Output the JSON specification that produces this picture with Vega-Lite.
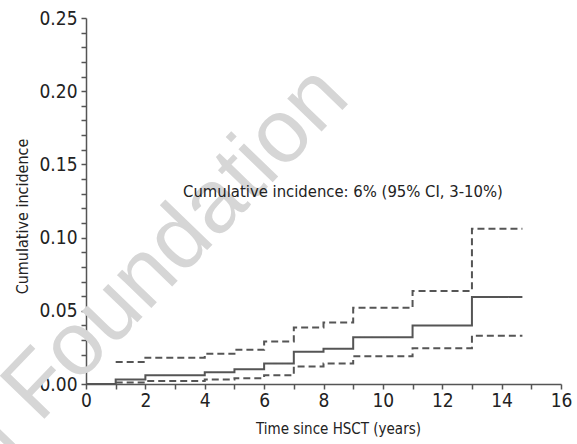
{
  "$schema": "https://vega.github.io/schema/vega-lite/v6.json",
  "width": 475,
  "height": 366,
  "autosize": {"type": "none"},
  "padding": {"left": 86, "top": 18, "right": 16, "bottom": 60},
  "background": "white",
  "config": {
    "view": {"stroke": null},
    "font": "DejaVu Sans Condensed, Liberation Sans, sans-serif",
    "axis": {
      "grid": false,
      "domainColor": "#555",
      "domainWidth": 1.5,
      "tickColor": "#555",
      "tickWidth": 1.5,
      "tickSize": 5,
      "labelFont": "DejaVu Sans Condensed, Liberation Sans, sans-serif",
      "labelFontSize": 19,
      "labelColor": "#222",
      "titleFont": "DejaVu Sans Condensed, Liberation Sans, sans-serif",
      "titleFontWeight": "normal",
      "titleColor": "#222"
    }
  },
  "datasets": {
    "curves": [
      {"series": "estimate", "time": 0, "ci": 0},
      {"series": "estimate", "time": 1, "ci": 0.003},
      {"series": "estimate", "time": 2, "ci": 0.006},
      {"series": "estimate", "time": 4, "ci": 0.008},
      {"series": "estimate", "time": 5, "ci": 0.010},
      {"series": "estimate", "time": 6, "ci": 0.014},
      {"series": "estimate", "time": 7, "ci": 0.022},
      {"series": "estimate", "time": 8, "ci": 0.024},
      {"series": "estimate", "time": 9, "ci": 0.032},
      {"series": "estimate", "time": 11, "ci": 0.040},
      {"series": "estimate", "time": 13, "ci": 0.0595},
      {"series": "estimate", "time": 14.7, "ci": 0.0595},
      {"series": "upper", "time": 1, "ci": 0.015},
      {"series": "upper", "time": 2, "ci": 0.018},
      {"series": "upper", "time": 4, "ci": 0.0207},
      {"series": "upper", "time": 5, "ci": 0.0234},
      {"series": "upper", "time": 6, "ci": 0.029},
      {"series": "upper", "time": 7, "ci": 0.0386},
      {"series": "upper", "time": 8, "ci": 0.042},
      {"series": "upper", "time": 9, "ci": 0.052},
      {"series": "upper", "time": 11, "ci": 0.0636},
      {"series": "upper", "time": 13, "ci": 0.106},
      {"series": "upper", "time": 14.7, "ci": 0.106},
      {"series": "lower", "time": 1, "ci": 0.001},
      {"series": "lower", "time": 2, "ci": 0.002},
      {"series": "lower", "time": 4, "ci": 0.003},
      {"series": "lower", "time": 5, "ci": 0.004},
      {"series": "lower", "time": 6, "ci": 0.006},
      {"series": "lower", "time": 7, "ci": 0.012},
      {"series": "lower", "time": 8, "ci": 0.014},
      {"series": "lower", "time": 9, "ci": 0.019},
      {"series": "lower", "time": 11, "ci": 0.0245},
      {"series": "lower", "time": 13, "ci": 0.033},
      {"series": "lower", "time": 14.7, "ci": 0.033}
    ],
    "watermark": [
      {"label": "Ferrata Storti Foundation", "time": 8.96, "ci": 0.194}
    ],
    "notes": [
      {"label": "Cumulative incidence: 6% (95% CI, 3-10%)", "time": 3.27, "ci": 0.131}
    ]
  },
  "layer": [
    {
      "data": {"name": "watermark"},
      "mark": {"type": "text", "align": "right", "baseline": "alphabetic", "angle": -46, "font": "Liberation Sans", "fontSize": 90, "color": "#d6d6d6"},
      "encoding": {
        "x": {"field": "time", "type": "quantitative", "scale": {"domain": [0, 16], "nice": false}},
        "y": {"field": "ci", "type": "quantitative", "scale": {"domain": [0, 0.25], "nice": false}},
        "text": {"field": "label"}
      }
    },
    {
      "data": {"name": "curves"},
      "mark": {"type": "line", "interpolate": "step-after", "color": "#555", "strokeWidth": 2},
      "encoding": {
        "x": {
          "field": "time", "type": "quantitative",
          "scale": {"domain": [0, 16], "nice": false},
          "axis": {
            "title": "Time since HSCT (years)",
            "titleFontSize": 15,
            "values": [0,1,2,3,4,5,6,7,8,9,10,11,12,13,14,15,16],
            "tickCount": 40,
            "labelExpr": "datum.value % 2 == 0 ? format(datum.value, 'd') : ''",
            "labelOverlap": false,
            "labelBound": false,
            "labelFlush": false,
            "labelPadding": 2,
            "titleX": 252,
            "titleY": 44,
            "titleBaseline": "middle",
            "titleAnchor": "start",
            "titleAlign": "center"
          }
        },
        "y": {
          "field": "ci", "type": "quantitative",
          "scale": {"domain": [0, 0.25], "nice": false},
          "axis": {
            "title": "Cumulative incidence",
            "titleFontSize": 16,
            "values": [0,0.01,0.02,0.03,0.04,0.05,0.06,0.07,0.08,0.09,0.1,0.11,0.12,0.13,0.14,0.15,0.16,0.17,0.18,0.19,0.2,0.21,0.22,0.23,0.24,0.25],
            "tickCount": 60,
            "labelExpr": "round(datum.value*100) % 5 == 0 ? format(datum.value, '.2f') : ''",
            "labelOverlap": false,
            "labelBound": false,
            "labelFlush": false,
            "labelPadding": 4,
            "titleX": -64,
            "titleY": 198,
            "titleBaseline": "middle",
            "titleAlign": "center",
            "titleAnchor": "start"
          }
        },
        "strokeDash": {
          "field": "series", "type": "nominal",
          "scale": {"domain": ["estimate", "upper", "lower"], "range": [[1, 0], [7, 4], [7, 4]]},
          "legend": null
        }
      }
    },
    {
      "data": {"name": "notes"},
      "mark": {"type": "text", "align": "left", "baseline": "middle", "font": "DejaVu Sans Condensed, Liberation Sans, sans-serif", "fontSize": 16.5, "color": "#222"},
      "encoding": {
        "x": {"field": "time", "type": "quantitative"},
        "y": {"field": "ci", "type": "quantitative"},
        "text": {"field": "label"}
      }
    }
  ]
}
